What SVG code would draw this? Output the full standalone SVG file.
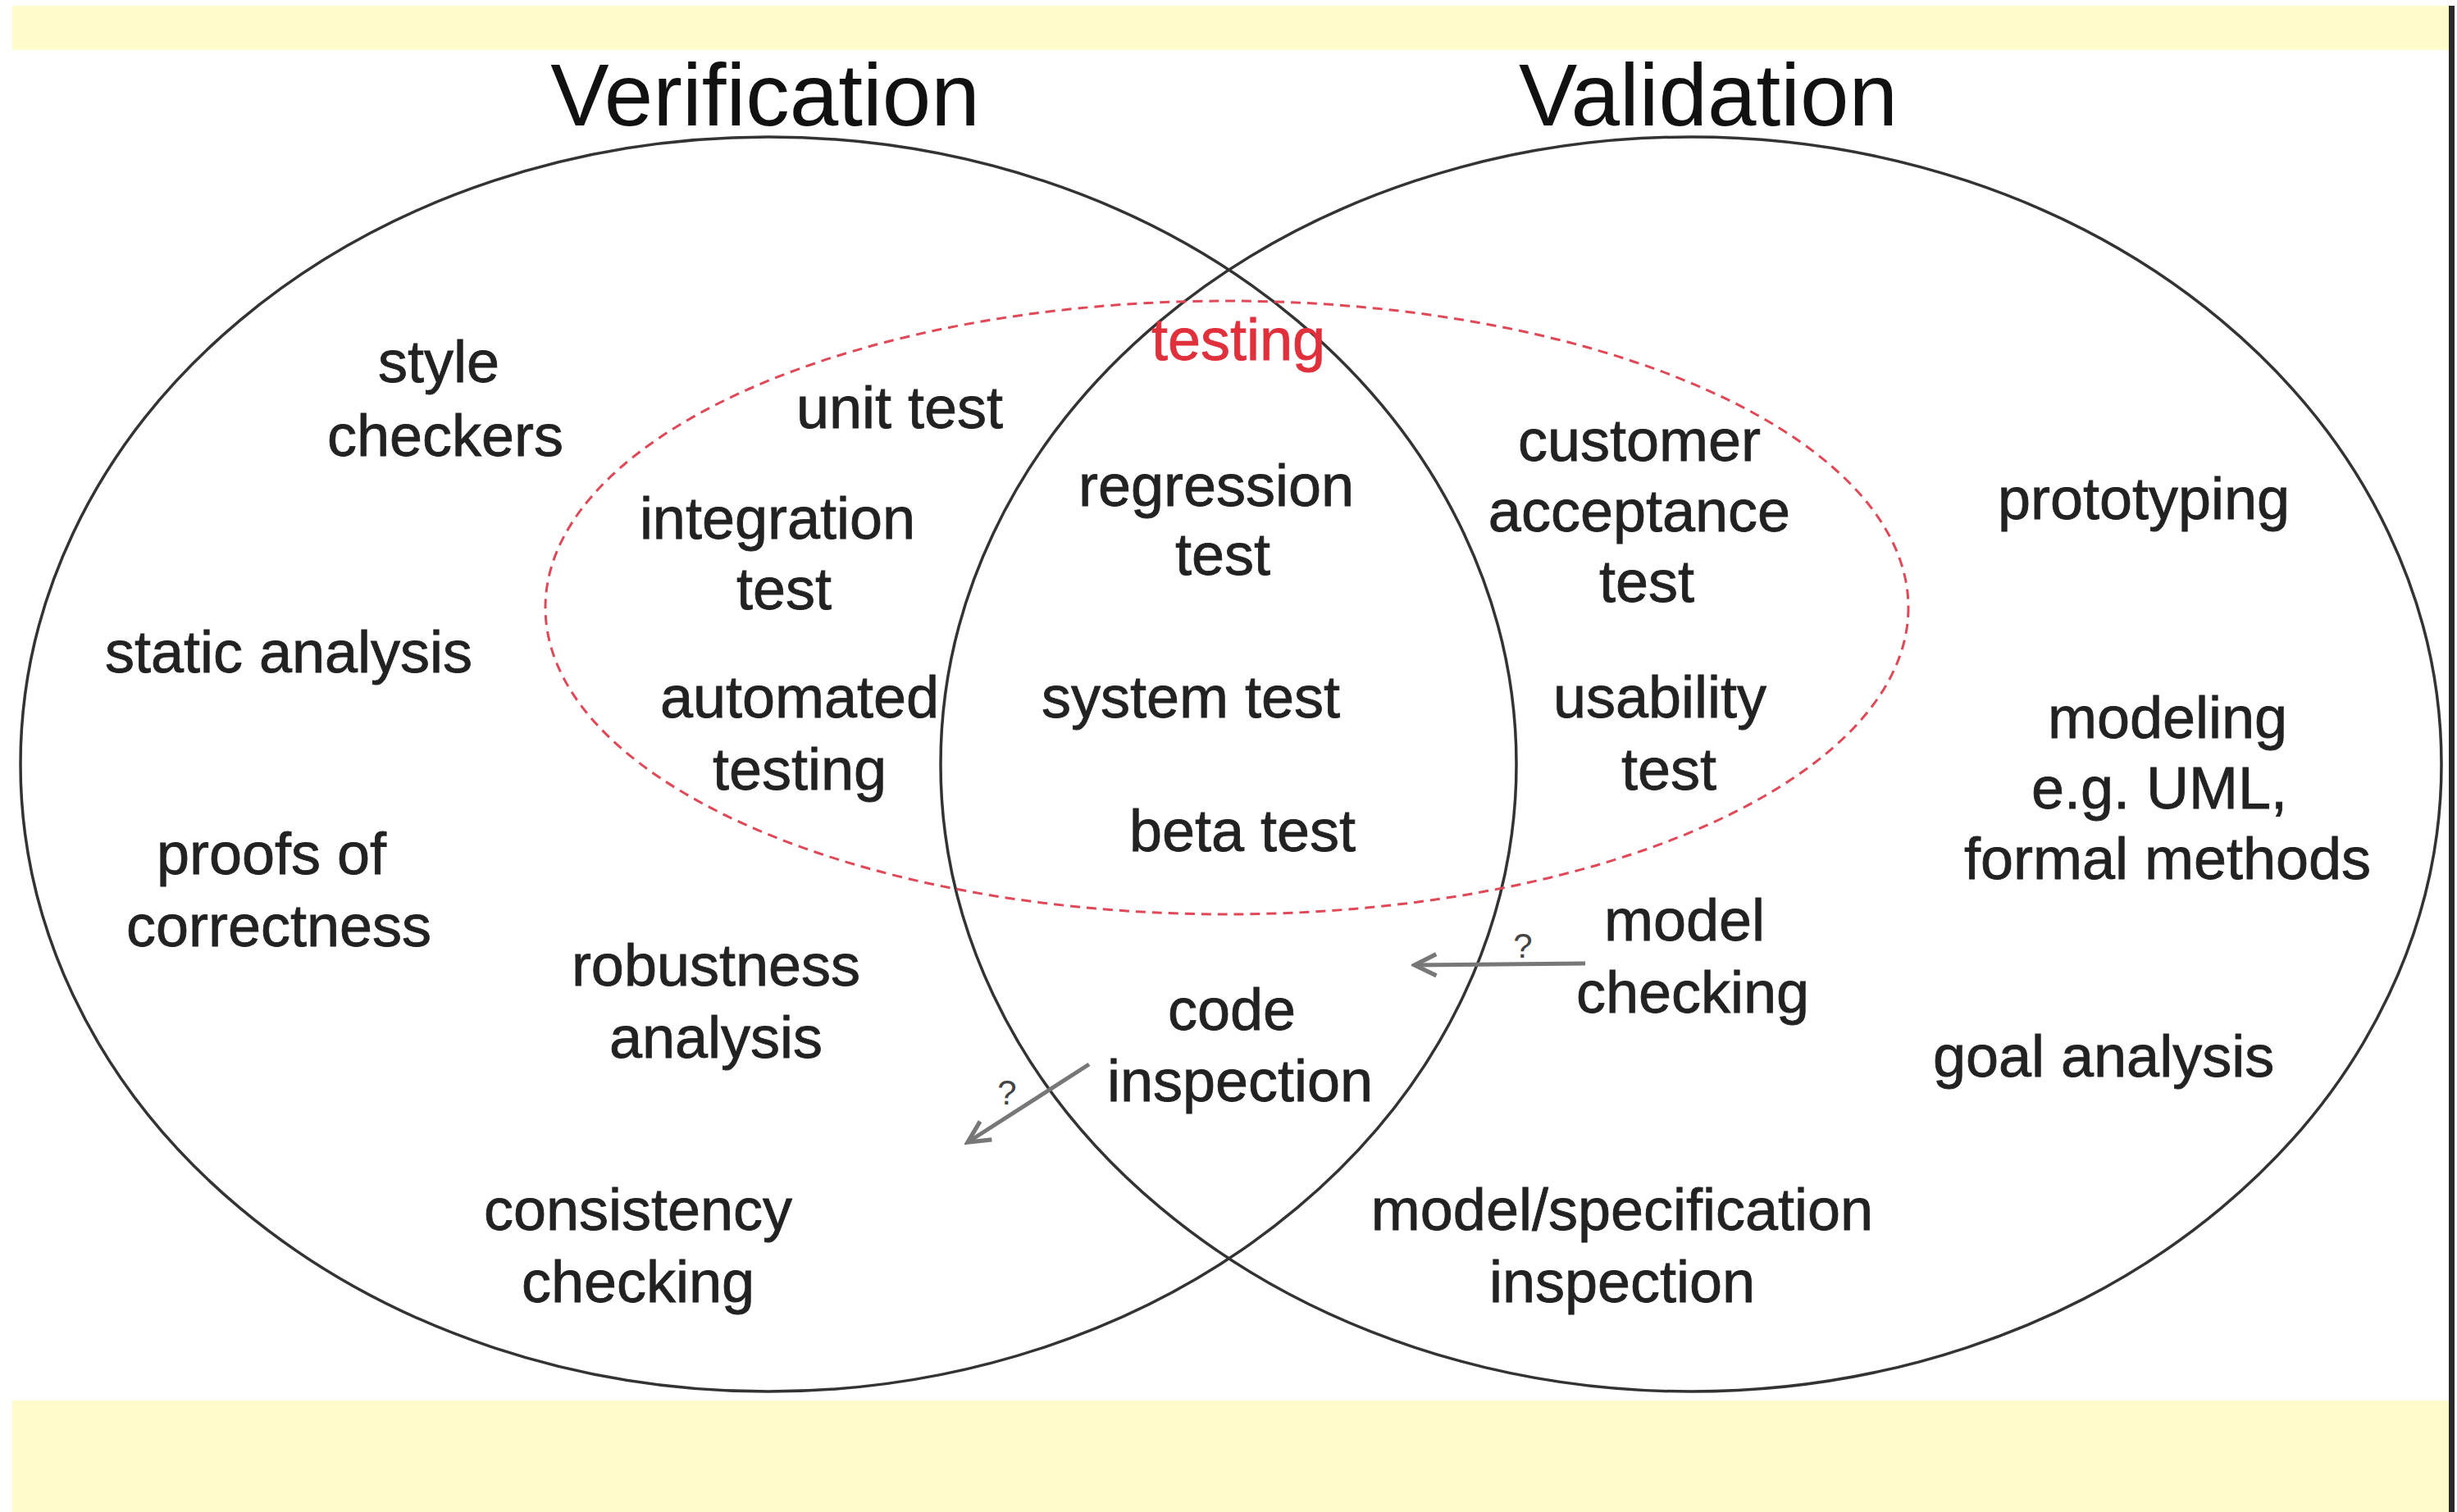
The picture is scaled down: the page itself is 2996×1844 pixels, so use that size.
<svg xmlns="http://www.w3.org/2000/svg" width="2996" height="1844" viewBox="0 0 2996 1844">
<style>
.lbl{font-family:"Liberation Sans",Arial,sans-serif;font-size:72px;fill:#222;stroke:#222;stroke-width:0.8;text-anchor:middle}
.title{font-family:"Liberation Sans",Arial,sans-serif;font-size:107px;fill:#111;text-anchor:middle}
.red{fill:#e0303c;stroke:#e0303c}
.q{font-family:"Liberation Sans",Arial,sans-serif;font-size:42px;fill:#444;text-anchor:middle}
.set{fill:none;stroke:#333;stroke-width:3.5}
.arr{fill:none;stroke:#777;stroke-width:5;marker-end:url(#open)}
</style>
<defs>
<marker id="open" viewBox="0 0 20 20" refX="18" refY="10" markerWidth="44" markerHeight="44" orient="auto" markerUnits="userSpaceOnUse">
<path d="M6,4 L18,10 L6,16" fill="none" stroke="#777" stroke-width="2.4"/>
</marker>
</defs>
<rect x="0" y="0" width="2996" height="1844" fill="#fff"/>
<rect x="15" y="7" width="2971" height="54" fill="#fffccc"/>
<rect x="15" y="1708" width="2971" height="136" fill="#fffccc"/>
<rect x="2986" y="7" width="7" height="1837" fill="#2a2a2a"/>
<g id="verification">
<ellipse class="set" cx="937" cy="932" rx="912" ry="765"/>
<text class="title" x="933" y="153">Verification</text>
</g>
<g id="validation">
<ellipse class="set" cx="2062" cy="932" rx="915" ry="765"/>
<text class="title" x="2083" y="153">Validation</text>
</g>
<g id="testing">
<ellipse cx="1496" cy="741" rx="831" ry="374" fill="none" stroke="#e04858" stroke-width="3" stroke-dasharray="12 8"/>
<text class="lbl red" x="1510" y="439">testing</text>
</g>
<g id="style-checkers"><text class="lbl" x="535" y="466">style</text><text class="lbl" x="543" y="556">checkers</text></g>
<g id="unit-test"><text class="lbl" x="1097" y="522">unit test</text></g>
<g id="integration-test"><text class="lbl" x="948" y="657">integration</text><text class="lbl" x="956" y="743">test</text></g>
<g id="static-analysis"><text class="lbl" x="352" y="820">static analysis</text></g>
<g id="automated-testing"><text class="lbl" x="975" y="875">automated</text><text class="lbl" x="975" y="963">testing</text></g>
<g id="proofs"><text class="lbl" x="331" y="1066">proofs of</text><text class="lbl" x="340" y="1154">correctness</text></g>
<g id="robustness"><text class="lbl" x="873" y="1202">robustness</text><text class="lbl" x="873" y="1290">analysis</text></g>
<g id="consistency"><text class="lbl" x="778" y="1500">consistency</text><text class="lbl" x="778" y="1588">checking</text></g>
<g id="regression-test"><text class="lbl" x="1483" y="617">regression</text><text class="lbl" x="1491" y="701">test</text></g>
<g id="system-test"><text class="lbl" x="1452" y="875">system test</text></g>
<g id="beta-test"><text class="lbl" x="1515" y="1038">beta test</text></g>
<g id="code-inspection"><text class="lbl" x="1502" y="1256">code</text><text class="lbl" x="1512" y="1343">inspection</text></g>
<g id="customer-acceptance"><text class="lbl" x="1999" y="562">customer</text><text class="lbl" x="1999" y="648">acceptance</text><text class="lbl" x="2008" y="734">test</text></g>
<g id="usability-test"><text class="lbl" x="2024" y="875">usability</text><text class="lbl" x="2035" y="963">test</text></g>
<g id="model-checking"><text class="lbl" x="2054" y="1147">model</text><text class="lbl" x="2064" y="1235">checking</text></g>
<g id="model-spec-inspection"><text class="lbl" x="1978" y="1500">model/specification</text><text class="lbl" x="1978" y="1588">inspection</text></g>
<g id="prototyping"><text class="lbl" x="2614" y="633">prototyping</text></g>
<g id="modeling"><text class="lbl" x="2643" y="900">modeling</text><text class="lbl" x="2633" y="986">e.g. UML,</text><text class="lbl" x="2643" y="1072">formal methods</text></g>
<g id="goal-analysis"><text class="lbl" x="2565" y="1313">goal analysis</text></g>
<g id="connectors">
<path class="arr" d="M1933,1175 L1725,1177"/>
<text class="q" x="1857" y="1168">?</text>
<path class="arr" d="M1328,1298 L1180,1393"/>
<text class="q" x="1228" y="1347">?</text>
</g>
</svg>
